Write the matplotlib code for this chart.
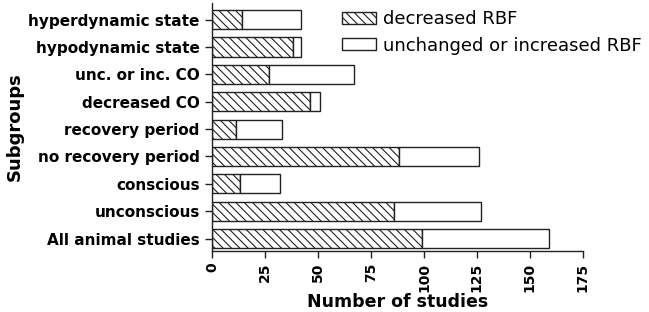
import matplotlib.pyplot as plt
import numpy as np

plt.rcParams['font.family'] = ['DejaVu Sans']
plt.rcParams['hatch.linewidth'] = 0.8
plt.rcParams['hatch.color'] = '#333333'

subgroups = ['All animal studies', 'unconscious', 'conscious',
             'no recovery period', 'recovery period', 'decreased CO',
             'unc. or inc. CO', 'hypodynamic state', 'hyperdynamic state']
decreased = [99, 86, 13, 88, 11, 46, 27, 38, 14]
total = [159, 127, 32, 126, 33, 51, 67, 42, 42]
unchanged = [t - d for t, d in zip(total, decreased)]

fig = plt.figure(figsize=(6.49, 3.12), dpi=100)
ax = fig.add_axes([0.327, 0.196, 0.571, 0.794])

y = np.arange(len(subgroups))
ax.barh(y, decreased, height=0.7, color='white', edgecolor='#222222',
        linewidth=1.0, hatch='\\\\\\\\', label='decreased RBF')
ax.barh(y, unchanged, left=decreased, height=0.7, color='white',
        edgecolor='#222222', linewidth=1.0,
        label='unchanged or increased RBF')

ax.set_xlim(0, 175)
ax.set_ylim(-0.445, 8.6)
ax.set_xticks(np.arange(0, 176, 25))
ax.set_xticklabels([str(v) for v in range(0, 176, 25)], rotation=90,
                   fontweight='bold', fontsize=10)
ax.set_yticks(y)
ax.set_yticklabels(subgroups, fontweight='bold', fontsize=11)
ax.tick_params(axis='both', direction='out', length=5, width=1, color='#222222')
ax.tick_params(axis='y', pad=4)
for s in ['top', 'right']:
    ax.spines[s].set_visible(False)
for s in ['left', 'bottom']:
    ax.spines[s].set_linewidth(1.0)
    ax.spines[s].set_color('#222222')

ax.set_xlabel('Number of studies', fontweight='bold', fontsize=12.5, labelpad=1)
ax.set_ylabel('Subgroups', fontweight='bold', fontsize=13, labelpad=3)

ax.legend(loc='upper left', bbox_to_anchor=(0.34, 0.985), frameon=False,
          fontsize=13, handlelength=1.9, handleheight=0.6, handletextpad=0.4,
          labelspacing=0.45, borderaxespad=0, borderpad=0.2)

fig.savefig('out.png', dpi=100)
